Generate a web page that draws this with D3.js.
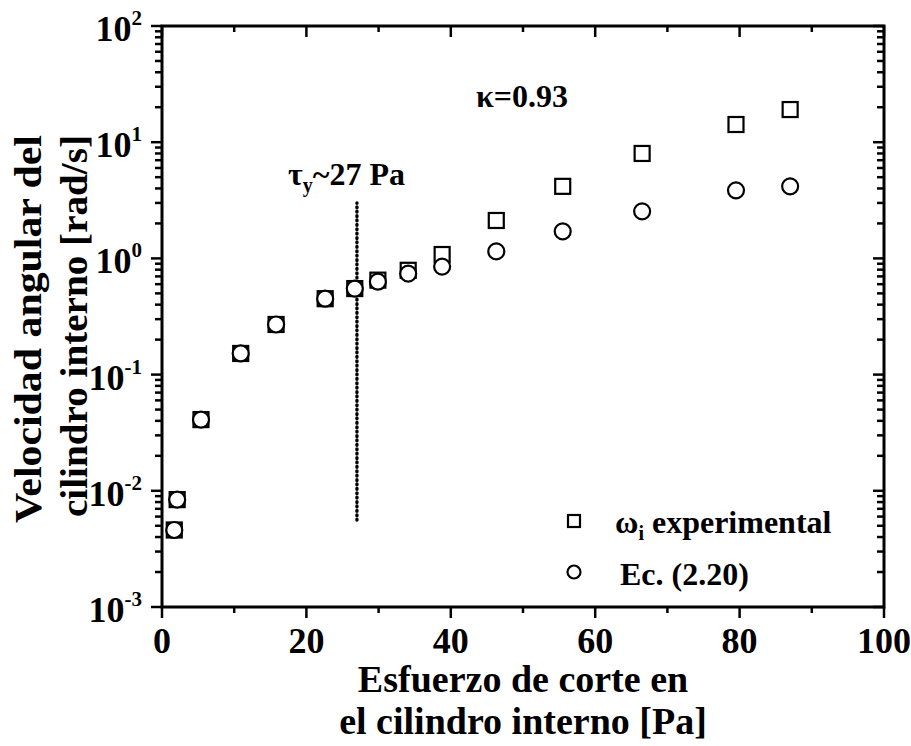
<!DOCTYPE html>
<html>
<head>
<meta charset="utf-8">
<script src="https://cdn.jsdelivr.net/npm/d3@7"></script>
<style>
  body { margin: 0; background: #fff; }
  svg text { font-family: "Liberation Serif", "Times New Roman", serif; font-weight: bold; fill: #000; }
</style>
</head>
<body>
<div id="chart"></div>
<script>
// shear stress at inner cylinder [Pa]
var stress = [1.7, 2.1, 5.4, 10.9, 15.8, 22.6, 26.7, 29.9, 34.1, 38.8, 46.3, 55.5, 66.5, 79.5, 87.0];
// omega_i experimental [rad/s]
var omegaExp = [0.0046, 0.0084, 0.041, 0.152, 0.27, 0.45, 0.55, 0.65, 0.79, 1.08, 2.12, 4.17, 8.0, 14.2, 19.1];
// Ec. (2.20)
var omegaEc = [0.0046, 0.0084, 0.041, 0.152, 0.27, 0.45, 0.55, 0.63, 0.74, 0.85, 1.15, 1.71, 2.54, 3.85, 4.17];

var xTicks = [0, 20, 40, 60, 80, 100];
var yExps = [-3, -2, -1, 0, 1, 2];
var yieldStress = 27;
var yieldRange = [0.0056, 3.0];

var W = 911, H = 746;
var margin = {left: 162, top: 26, right: 27, bottom: 139};
var w = W - margin.left - margin.right, h = H - margin.top - margin.bottom;

var svg = d3.select("#chart").append("svg").attr("width", W).attr("height", H);
var g = svg.append("g").attr("transform", "translate(" + margin.left + "," + margin.top + ")");

var x = d3.scaleLinear().domain([0, 100]).range([0, w]);
var y = d3.scaleLog().domain([1e-3, 1e2]).range([h, 0]);

var minorX = d3.range(10, 100, 20);
var minorY = [];
yExps.slice(0, -1).forEach(function(e) {
  for (var k = 2; k <= 9; k++) minorY.push(k * Math.pow(10, e));
});

// ticks: all point the same way as the main axes (down / left)
function xTickLines(yPos, list, len) {
  g.selectAll(null).data(list).enter().append("line")
    .attr("x1", function(d) { return x(d); }).attr("x2", function(d) { return x(d); })
    .attr("y1", yPos).attr("y2", yPos + len)
    .attr("stroke", "#000").attr("stroke-width", 2.5);
}
function yTickLines(xPos, list, len) {
  g.selectAll(null).data(list).enter().append("line")
    .attr("y1", function(d) { return y(d); }).attr("y2", function(d) { return y(d); })
    .attr("x1", xPos).attr("x2", xPos - len)
    .attr("stroke", "#000").attr("stroke-width", 2.5);
}
xTickLines(h, xTicks, 11);
xTickLines(h, minorX, 6);
xTickLines(0, xTicks, 11);
xTickLines(0, minorX, 6);
var majorY = yExps.map(function(e) { return Math.pow(10, e); });
yTickLines(0, majorY, 11);
yTickLines(0, minorY, 7);
yTickLines(w, majorY, 11);
yTickLines(w, minorY, 7);

g.append("rect").attr("x", 0).attr("y", 0).attr("width", w).attr("height", h)
  .attr("fill", "none").attr("stroke", "#000").attr("stroke-width", 3);

// tick labels
g.selectAll(null).data(xTicks).enter().append("text")
  .attr("x", function(d) { return x(d); }).attr("y", h + 46)
  .attr("text-anchor", "middle").style("font-size", "36px")
  .text(function(d) { return d; });

var yl = g.selectAll(null).data(yExps).enter().append("text")
  .attr("x", -20).attr("y", function(d) { return y(Math.pow(10, d)) + 15; })
  .attr("text-anchor", "end").style("font-size", "36px");
yl.append("tspan").text("10");
yl.append("tspan").attr("dy", -16).style("font-size", "21px")
  .text(function(d) { return d < 0 ? "-" + (-d) : d; });

// yield stress marker
g.append("line")
  .attr("x1", x(yieldStress)).attr("x2", x(yieldStress))
  .attr("y1", y(yieldRange[0])).attr("y2", y(yieldRange[1]))
  .attr("stroke", "#000").attr("stroke-width", 3.4)
  .attr("stroke-linecap", "round").attr("stroke-dasharray", "0.8,3.6");

var tau = g.append("text").attr("x", 126).attr("y", 159).style("font-size", "32px");
tau.append("tspan").text("\u03c4");
tau.append("tspan").attr("dy", 7).style("font-size", "20px").text("y");
tau.append("tspan").attr("dy", -7).text("~27 Pa");

g.append("text").attr("x", 314).attr("y", 81).style("font-size", "32px").text("\u03ba=0.93");

// data
var pts = stress.map(function(s, i) { return {x: s, e: omegaExp[i], c: omegaEc[i]}; });
var sq = 15;
g.selectAll(".sq").data(pts).enter().append("rect").attr("class", "sq")
  .attr("x", function(d) { return x(d.x) - sq / 2; })
  .attr("y", function(d) { return y(d.e) - sq / 2; })
  .attr("width", sq).attr("height", sq)
  .attr("fill", "none").attr("stroke", "#000").attr("stroke-width", 2.2);
g.selectAll(".ci").data(pts).enter().append("circle").attr("class", "ci")
  .attr("cx", function(d) { return x(d.x); })
  .attr("cy", function(d) { return y(d.c); })
  .attr("r", 8).attr("fill", "#fff").attr("stroke", "#000").attr("stroke-width", 2.2);

// legend
var lg = g.append("g").attr("transform", "translate(412,0)");
lg.append("rect").attr("x", -6).attr("y", 489).attr("width", 12).attr("height", 12)
  .attr("fill", "none").attr("stroke", "#000").attr("stroke-width", 2.2);
lg.append("circle").attr("cx", 0).attr("cy", 546).attr("r", 6.5)
  .attr("fill", "none").attr("stroke", "#000").attr("stroke-width", 2.2);
var l1 = lg.append("text").attr("x", 41).attr("y", 507).style("font-size", "32px");
l1.append("tspan").text("\u03c9");
l1.append("tspan").attr("dy", 7).style("font-size", "20px").text("i");
l1.append("tspan").attr("dy", -7).text(" experimental");
lg.append("text").attr("x", 46).attr("y", 559).style("font-size", "32px").text("Ec. (2.20)");

// axis titles
var xt = svg.append("text").attr("text-anchor", "middle").style("font-size", "38px");
xt.append("tspan").attr("x", margin.left + w / 2).attr("y", 692).text("Esfuerzo de corte en");
xt.append("tspan").attr("x", margin.left + w / 2).attr("y", 734).text("el cilindro interno [Pa]");

var yt = svg.append("g").attr("transform", "rotate(-90)");
yt.append("text").attr("x", -329).attr("y", 41).attr("text-anchor", "middle")
  .style("font-size", "38px").attr("textLength", 388).attr("lengthAdjust", "spacingAndGlyphs")
  .text("Velocidad angular del");
yt.append("text").attr("x", -326).attr("y", 87).attr("text-anchor", "middle")
  .style("font-size", "38px").attr("textLength", 382).attr("lengthAdjust", "spacingAndGlyphs")
  .text("cilindro interno [rad/s]");
</script>
</body>
</html>
